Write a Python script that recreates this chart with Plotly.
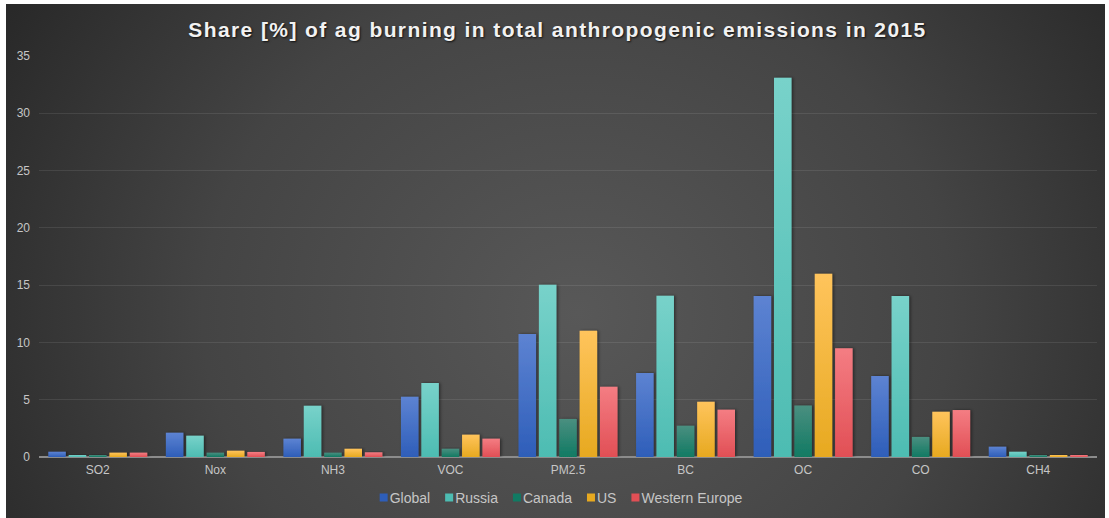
import plotly.graph_objects as go

# Pollutant categories on the x axis
pollutants = ["SO2", "Nox", "NH3", "VOC", "PM2.5", "BC", "OC", "CO", "CH4"]

# Share [%] of agricultural burning in total anthropogenic emissions, 2015
global_share = [0.46, 2.12, 1.60, 5.26, 10.73, 7.33, 14.05, 7.07, 0.90]
russia_share = [0.17, 1.86, 4.48, 6.46, 15.04, 14.08, 33.10, 14.05, 0.46]
canada_share = [0.15, 0.38, 0.38, 0.72, 3.32, 2.73, 4.50, 1.75, 0.17]
us_share = [0.38, 0.55, 0.72, 1.95, 11.02, 4.83, 16.00, 3.95, 0.17]
weurope_share = [0.38, 0.44, 0.41, 1.60, 6.14, 4.13, 9.50, 4.10, 0.17]

region_names = ["Global", "Russia", "Canada", "US", "Western Europe"]
region_values = [global_share, russia_share, canada_share, us_share, weurope_share]

# Bar colours: solid base plus top/bottom stops for the vertical gradient
base_colors = ["#4471c8", "#5cc6bd", "#2a8672", "#fbb838", "#ef6268"]
top_colors = ["#5d83d2", "#78d2ca", "#4a8f80", "#ffc45c", "#f47d83"]
bottom_colors = ["#2e5eb9", "#4dbcb2", "#117a63", "#e7a920", "#e14f55"]

y_ticks = [0, 5, 10, 15, 20, 25, 30, 35]

W, H = 1109, 518
M_L, M_R, M_T, M_B = 39, 12, 56, 61
LEGEND_CENTER_X = 561  # page x of the compact legend's centre

fig = go.Figure()
for name, vals, col in zip(region_names, region_values, base_colors):
    fig.add_trace(go.Bar(
        name=name, x=pollutants, y=vals,
        marker=dict(color=col, line=dict(width=0)),
    ))

# Dark radial-gradient card behind the chart
bg_svg = (
    "data:image/svg+xml;utf8,"
    "<svg xmlns='http://www.w3.org/2000/svg' width='1099' height='514' "
    "preserveAspectRatio='none' viewBox='0 0 1099 514'>"
    "<defs><radialGradient id='r' cx='0.52' cy='0.6' r='0.62' "
    "gradientTransform='translate(0.52 0.6) scale(1 1.9) translate(-0.52 -0.6)'>"
    "<stop offset='0' stop-color='%23585858'/>"
    "<stop offset='0.55' stop-color='%23444444'/>"
    "<stop offset='1' stop-color='%23272727'/>"
    "</radialGradient></defs>"
    "<rect width='1099' height='514' fill='url(%23r)'/></svg>"
)
pw = W - M_L - M_R
ph = H - M_T - M_B
card_x0, card_x1, card_y0, card_y1 = 6, 1105, 4, 518
fig.add_layout_image(
    source=bg_svg, xref="paper", yref="paper",
    x=(card_x0 - M_L) / pw, y=(H - M_B - card_y0) / ph,
    sizex=(card_x1 - card_x0) / pw, sizey=(card_y1 - card_y0) / ph,
    xanchor="left", yanchor="top", sizing="stretch", layer="below",
)

fig.update_layout(
    width=W, height=H,
    margin=dict(l=M_L, r=M_R, t=M_T, b=M_B, autoexpand=False),
    paper_bgcolor="white",
    plot_bgcolor="rgba(0,0,0,0)",
    barmode="group",
    bargap=0.134,
    bargroupgap=0.14,
    font=dict(family="Liberation Sans, Arial, sans-serif", color="#c6c6c6", size=12),
    title=dict(
        text="Share [%] of ag burning in total anthropogenic emissions in 2015",
        x=557.5 / W, xref="container", xanchor="center",
        y=1 - 30 / H, yref="container", yanchor="middle",
        font=dict(family="Liberation Sans, Arial, sans-serif", size=21,
                  color="#f2f2f2", weight="bold",
                  shadow="1px 1px 2px rgba(0,0,0,0.75)"),
    ),
    xaxis=dict(
        showgrid=False, showline=False, zeroline=False,
        ticks="", tickfont=dict(size=12, color="#c6c6c6"),
        ticklabelstandoff=4,
    ),
    yaxis=dict(
        range=[0, 35], tickvals=y_ticks, ticktext=[str(v) for v in y_ticks],
        showgrid=True, gridcolor="rgba(255,255,255,0.09)", gridwidth=1,
        zeroline=True, zerolinecolor="#8c8c8c", zerolinewidth=2,
        showline=False, ticks="", tickfont=dict(size=12, color="#c6c6c6"),
        ticklabelstandoff=8,
    ),
    legend=dict(
        orientation="h", x=0.5, xanchor="center",
        y=-(498 - (H - M_B)) / ph, yanchor="middle",
        font=dict(size=14, color="#c6c6c6"),
        bgcolor="rgba(0,0,0,0)",
    ),
    showlegend=True,
)

# Vertical gradient fills and a soft drop shadow on the bars, spaced title
# lettering, and a compact legend with small square keys
stops_js = ",".join("['%s','%s']" % (t, b) for t, b in zip(top_colors, bottom_colors))
post = """
var gd = document.getElementById('{plot_id}');
var STOPS = [%s];
var LEGEND_CX = %d;
function parseT(el){
  var m = /translate\\(\\s*([-\\d.e]+)[ ,]+([-\\d.e]+)/.exec(el.getAttribute('transform') || '');
  return m ? [parseFloat(m[1]), parseFloat(m[2])] : [0, 0];
}
function tidy(){
  var svg = gd.querySelector('svg.main-svg');
  if(!svg) return;
  var NS = 'http://www.w3.org/2000/svg';
  var defs = svg.querySelector('defs');
  if(!document.getElementById('barGrad0')){
    STOPS.forEach(function(s, i){
      var g = document.createElementNS(NS, 'linearGradient');
      g.setAttribute('id', 'barGrad' + i);
      g.setAttribute('x1', '0'); g.setAttribute('y1', '0');
      g.setAttribute('x2', '0'); g.setAttribute('y2', '1');
      [[0, s[0]], [1, s[1]]].forEach(function(st){
        var e = document.createElementNS(NS, 'stop');
        e.setAttribute('offset', st[0]);
        e.setAttribute('stop-color', st[1]);
        g.appendChild(e);
      });
      defs.appendChild(g);
    });
    var f = document.createElementNS(NS, 'filter');
    f.setAttribute('id', 'barShadow');
    f.setAttribute('x', '-50%%'); f.setAttribute('y', '-10%%');
    f.setAttribute('width', '200%%'); f.setAttribute('height', '120%%');
    var ds = document.createElementNS(NS, 'feDropShadow');
    ds.setAttribute('dx', '1.5'); ds.setAttribute('dy', '0');
    ds.setAttribute('stdDeviation', '1.5');
    ds.setAttribute('flood-color', '#000');
    ds.setAttribute('flood-opacity', '0.45');
    f.appendChild(ds);
    defs.appendChild(f);
  }
  gd.querySelectorAll('.barlayer .trace').forEach(function(t, i){
    t.querySelectorAll('path').forEach(function(p){
      p.style.fill = 'url(#barGrad' + i + ')';
      p.setAttribute('filter', 'url(#barShadow)');
    });
  });
  var tt = gd.querySelector('.gtitle');
  if(tt){ tt.style.letterSpacing = '1.4px'; }

  // compact legend: 8px square key, 2px gap, 15px between entries
  var leg = gd.querySelector('g.legend');
  if(!leg) return;
  var items = leg.querySelectorAll('g.traces');
  var KEY = 8, TXT = 10, GAP = 15;
  var widths = [], total = 0;
  items.forEach(function(it, i){
    var t = it.querySelector('text.legendtext');
    var w = t ? t.getComputedTextLength() : 0;
    widths.push(w);
    total += TXT + w + (i < items.length - 1 ? GAP : 0);
  });
  var lx = parseT(leg)[0];
  var sb = leg.querySelector('.scrollbox');
  if(sb){ lx += parseT(sb)[0]; }
  var cur = LEGEND_CX - total / 2 - lx;
  items.forEach(function(it, i){
    var y = parseT(it)[1];
    it.setAttribute('transform', 'translate(' + cur + ',' + y + ')');
    var t = it.querySelector('text.legendtext');
    if(t){ t.setAttribute('x', TXT); }
    it.querySelectorAll('.legendpoints path').forEach(function(p){
      p.setAttribute('d', 'M4,4H-4V-4H4Z');
      p.setAttribute('transform', 'translate(4,0)');
      p.style.fill = STOPS[i] ? STOPS[i][1] : p.style.fill;
      p.style.stroke = 'none';
    });
    var r = it.querySelector('rect.legendtoggle');
    if(r){ r.setAttribute('x', 0); r.setAttribute('width', TXT + widths[i]); }
    cur += TXT + widths[i] + GAP;
  });
  var bg = leg.querySelector('rect.bg');
  if(bg){ bg.style.display = 'none'; }
}
tidy();
gd.on('plotly_afterplot', tidy);
""" % (stops_js, LEGEND_CENTER_X)

fig.write_html("out.html", post_script=post)
